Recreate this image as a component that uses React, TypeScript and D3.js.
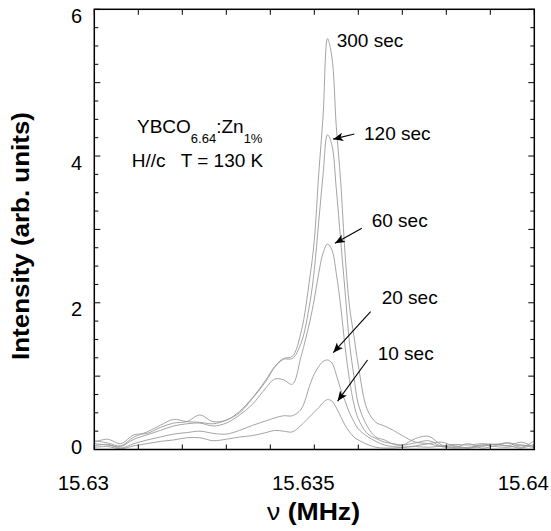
import React from 'react';
import * as d3 from 'd3';

// Frequency grid (MHz) shared by all spectra
const FREQ_MHZ = [
  15.63, 15.6303, 15.6306, 15.6309, 15.6312, 15.6315, 15.6318, 15.6321, 15.6324, 15.6327, 15.633, 15.6333,
  15.6336, 15.6339,
  15.6341, 15.6343, 15.6345, 15.6347, 15.6349,
  15.635, 15.6351, 15.6352, 15.6353, 15.6354, 15.6355, 15.6356, 15.6357, 15.6358, 15.6359, 15.636,
  15.6362, 15.6364, 15.6366, 15.6368, 15.637,
  15.6373, 15.6376, 15.6379, 15.6382, 15.6385, 15.6388, 15.6391, 15.6394, 15.6397, 15.64,
];

const SERIES_LABELS = ['300 sec', '120 sec', '60 sec', '20 sec', '10 sec'];

const I_300 = [
  0.10, 0.14, 0.08, 0.20, 0.22, 0.30, 0.36, 0.38, 0.47, 0.38, 0.40, 0.52,
  0.71, 0.95,
  1.13, 1.24, 1.27, 1.60, 2.35,
  2.85, 3.75, 4.55, 5.60, 5.35, 4.40, 3.65, 2.66, 1.95, 1.55, 1.15,
  0.55, 0.37, 0.32, 0.26, 0.19,
  0.10, 0.08, 0.04, 0.05, 0.02, 0.06, 0.07, 0.05, 0.10, 0.03,
];
const I_120 = [
  0.12, 0.09, 0.05, 0.17, 0.24, 0.33, 0.41, 0.38, 0.37, 0.35, 0.40, 0.50,
  0.70, 0.93,
  1.12, 1.23, 1.24, 1.45, 2.0,
  2.45, 3.1, 3.75, 4.29, 4.15, 3.55, 2.85, 2.15, 1.45, 1.0, 0.62,
  0.32, 0.17, 0.13, 0.07, 0.06,
  0.15, 0.18, 0.06, 0.03, 0.08, 0.02, 0.05, 0.09, 0.03, 0.12,
];
const I_60 = [
  0.08, 0.06, 0.04, 0.14, 0.20, 0.26, 0.32, 0.35, 0.36, 0.32, 0.36, 0.47,
  0.62, 0.84,
  0.96, 0.95, 0.89, 1.27, 1.75,
  2.05, 2.40, 2.68, 2.80, 2.72, 2.40, 1.95, 1.40, 0.95, 0.62, 0.42,
  0.22, 0.15, 0.10, 0.08, 0.06,
  0.09, 0.12, 0.04, 0.02, 0.03, 0.06, 0.04, 0.03, 0.06, 0.02,
];
const I_20 = [
  0.05, 0.07, 0.02, 0.08, 0.13, 0.17, 0.21, 0.23, 0.25, 0.22, 0.21, 0.26,
  0.33, 0.39,
  0.43, 0.46, 0.46, 0.55, 0.88,
  1.03, 1.13, 1.20, 1.22, 1.18, 1.02, 0.82, 0.66, 0.50, 0.38, 0.28,
  0.18, 0.11, 0.06, 0.04, 0.03,
  0.05, 0.08, 0.10, 0.04, 0.02, 0.04, 0.07, 0.05, 0.02, 0.07,
];
const I_10 = [
  0.03, 0.04, 0.01, 0.05, 0.08, 0.11, 0.13, 0.16, 0.16, 0.12, 0.14, 0.17,
  0.19, 0.23,
  0.26, 0.25, 0.24, 0.33, 0.45,
  0.51, 0.57, 0.64, 0.68, 0.66, 0.57, 0.45, 0.33, 0.24, 0.17, 0.13,
  0.07, 0.03, 0.02, 0.02, 0.03,
  0.04, 0.03, 0.05, 0.07, 0.06, 0.08, 0.07, 0.09, 0.06, 0.05,
];

const X_TICK_VALUES = [15.63, 15.635, 15.64];
const X_TICK_LABELS = ['15.63', '15.635', '15.64'];
const Y_TICK_VALUES = [0, 2, 4, 6];
const Y_TICK_LABELS = ['0', '2', '4', '6'];

// annotation arrows (data coordinates), null = no arrow
const ARROW_TAIL_F = [null, 15.63591, 15.63608, 15.63628, 15.63621];
const ARROW_TAIL_I = [null, 4.30, 3.015, 1.88, 1.22];
const ARROW_TIP_F = [null, 15.63543, 15.63547, 15.63543, 15.63553];
const ARROW_TIP_I = [null, 4.23, 2.81, 1.32, 0.66];

const FONT = '"Liberation Sans", Arial, Helvetica, sans-serif';

export default function App() {
  const W = 551;
  const H = 531;
  const L = 94.3, R = 534.3, T = 9.3, B = 449.5;
  const x = d3.scaleLinear().domain([15.63, 15.64]).range([L, R]);
  const y = d3.scaleLinear().domain([0, 6]).range([B, T]);

  const series = [I_300, I_120, I_60, I_20, I_10];
  const line = d3
    .line<number>()
    .x((_, i) => x(FREQ_MHZ[i]))
    .y((d) => y(d))
    .curve(d3.curveCatmullRom.alpha(0.5));

  const xMinor = d3.range(0, 11).map((i) => 15.63 + i * 0.001);
  const yMinor = d3.range(0, 25).map((i) => i * 0.25);

  // label layout (pixels)
  const labelPos = [
    [336.7, 46.7],
    [364, 140],
    [371.7, 226.7],
    [381.7, 304],
    [377.7, 360],
  ];

  return (
    <svg
      width={W}
      height={H}
      viewBox={`0 0 ${W} ${H}`}
      style={{ position: 'absolute', left: 0, top: 0, background: '#fff' }}
      fontFamily={FONT}
    >
      <defs>
        <clipPath id="plot">
          <rect x={L} y={T} width={R - L} height={B - T} />
        </clipPath>
        <marker
          id="arrow"
          markerUnits="userSpaceOnUse"
          markerWidth={11}
          markerHeight={10}
          refX={10}
          refY={5}
          orient="auto"
        >
          <path d="M0,0.8 L10,5 L0,9.2 L2.5,5 Z" fill="#000" />
        </marker>
      </defs>
      <rect x={0} y={0} width={W} height={H} fill="#fff" />

      {/* curves */}
      <g clipPath="url(#plot)">
        {series.map((s, k) => (
          <path key={k} d={line(s) || ''} fill="none" stroke="#9a9a9a" strokeWidth={0.9} />
        ))}
      </g>

      {/* ticks */}
      <g stroke="#000" strokeWidth={1}>
        {xMinor.map((v, i) => (
          <g key={'xt' + i}>
            <line x1={x(v)} x2={x(v)} y1={B} y2={B - 5} />
            <line x1={x(v)} x2={x(v)} y1={T} y2={T + 5.5} />
          </g>
        ))}
        {yMinor.map((v, i) => {
          const major = Math.abs(v - Math.round(v)) < 1e-9;
          const len = major ? 6 : 4;
          return (
            <g key={'yt' + i}>
              <line x1={L} x2={L + len} y1={y(v)} y2={y(v)} />
              <line x1={R} x2={R - len} y1={y(v)} y2={y(v)} />
            </g>
          );
        })}
      </g>

      {/* frame */}
      <rect x={L} y={T} width={R - L} height={B - T} fill="none" stroke="#000" strokeWidth={1.5} />

      {/* tick labels */}
      {X_TICK_VALUES.map((v, i) => (
        <text key={'xl' + i} x={x(v) - 11} y={490} fontSize={20.5} textAnchor="middle" fill="#000">
          {X_TICK_LABELS[i]}
        </text>
      ))}
      {Y_TICK_VALUES.map((v, i) => (
        <text
          key={'yl' + i}
          x={82}
          y={y(v) + (v === 0 ? 4.5 : 13.5)}
          fontSize={20}
          textAnchor="end"
          fill="#000"
        >
          {Y_TICK_LABELS[i]}
        </text>
      ))}

      {/* axis titles */}
      <text x={313.5} y={520} fontSize={23} fontWeight="bold" textAnchor="middle" fill="#000" textLength={93} lengthAdjust="spacingAndGlyphs">
        <tspan fontWeight="normal">ν</tspan> (MHz)
      </text>
      <text
        transform="translate(29,236) rotate(-90)"
        fontSize={23}
        fontWeight="bold"
        textAnchor="middle"
        fill="#000"
        textLength={248}
        lengthAdjust="spacingAndGlyphs"
      >
        Intensity (arb. units)
      </text>

      {/* sample annotation */}
      <text x={137} y={132.7} fontSize={19} fill="#000">
        YBCO<tspan fontSize={13} dy={10}>6.64</tspan>
        <tspan dy={-10}>:Zn</tspan>
        <tspan fontSize={13} dy={10}>1%</tspan>
      </text>
      <text x={131.7} y={166.7} fontSize={19} fill="#000">H//c</text>
      <text x={180.7} y={166.7} fontSize={19} fill="#000">T = 130 K</text>

      {/* series labels and arrows */}
      {SERIES_LABELS.map((lab, k) => (
        <text key={'lab' + k} x={labelPos[k][0]} y={labelPos[k][1]} fontSize={19} fill="#000">
          {lab}
        </text>
      ))}
      {SERIES_LABELS.map((_, k) =>
        ARROW_TAIL_F[k] == null ? null : (
          <line
            key={'ar' + k}
            x1={x(ARROW_TAIL_F[k] as number)}
            y1={y(ARROW_TAIL_I[k] as number)}
            x2={x(ARROW_TIP_F[k] as number)}
            y2={y(ARROW_TIP_I[k] as number)}
            stroke="#000"
            strokeWidth={1.1}
            markerEnd="url(#arrow)"
          />
        )
      )}
    </svg>
  );
}
